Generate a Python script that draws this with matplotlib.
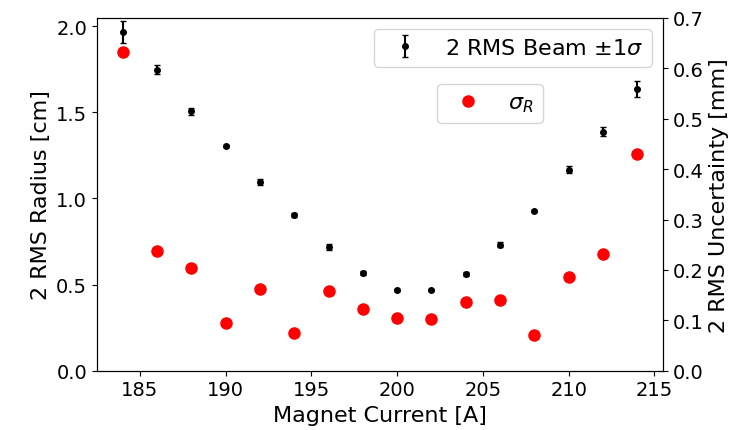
import matplotlib
matplotlib.use("Agg")
import matplotlib.pyplot as plt
from matplotlib.ticker import MultipleLocator

plt.rcParams["font.size"] = 14

current = [184, 186, 188, 190, 192, 194, 196, 198, 200, 202, 204, 206, 208, 210, 212, 214]
radius = [1.965, 1.748, 1.506, 1.307, 1.094, 0.904, 0.717, 0.567, 0.469, 0.469,
          0.562, 0.732, 0.927, 1.167, 1.388, 1.636]
radius_err = [0.064, 0.027, 0.02, 0.006, 0.017, 0.01, 0.019, 0.012, 0.008, 0.008,
              0.012, 0.015, 0.008, 0.022, 0.026, 0.045]
sigma_r = [0.633, 0.238, 0.203, 0.094, 0.162, 0.074, 0.158, 0.123, 0.105, 0.103,
           0.136, 0.141, 0.071, 0.186, 0.232, 0.430]

fig = plt.figure(figsize=(7.4, 4.31), dpi=100)
ax = fig.add_axes([0.131, 0.1376, 0.765, 0.8184])
ax.errorbar(current, radius, yerr=radius_err, fmt="o", color="k", ms=4,
            capsize=2.5, elinewidth=1.5, label=r"2 RMS Beam $\pm 1\sigma$")
ax.set_ylim(0, 2.048)
ax.yaxis.set_major_locator(MultipleLocator(0.5))
ax.set_xlabel("Magnet Current [A]", fontsize=16)
ax.set_ylabel("2 RMS Radius [cm]", fontsize=16)
ax.legend(loc="upper right", fontsize=16)

ax2 = ax.twinx()
ax2.plot(current, sigma_r, "o", color="red", ms=8, label=r"$\sigma_R$")
ax2.set_ylim(0, 0.7)
ax2.set_ylabel("2 RMS Uncertainty [mm]", fontsize=16)
ax2.legend(loc="upper left", bbox_to_anchor=(0.601, 0.813), borderaxespad=0,
           fontsize=16)

fig.savefig("out.png", dpi=100)
